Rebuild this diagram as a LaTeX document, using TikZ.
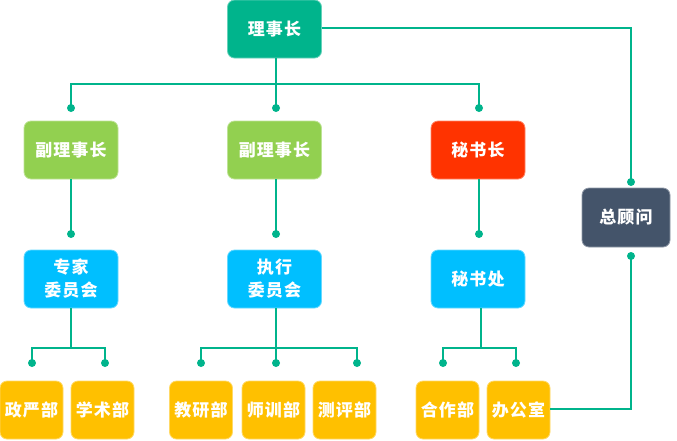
\documentclass[tikz,border=0pt]{standalone}
\usepackage{fontspec}
\newfontfamily\cjk{Noto Sans CJK SC}[LetterSpace=6]
\definecolor{teal}{HTML}{00B48C}
\definecolor{cgreen}{HTML}{92D050}
\definecolor{cred}{HTML}{FF3300}
\definecolor{cblue}{HTML}{00BFFF}
\definecolor{cyel}{HTML}{FFC000}
\definecolor{cnavy}{HTML}{44546A}
\tikzset{
  box/.style={rounded corners=7pt, text=white, font=\cjk\bfseries\fontsize{17}{23}\selectfont, align=center, inner sep=0pt, line width=0.8pt},
  big/.style={box, minimum width=94pt, minimum height=58pt},
  small/.style={box, minimum width=63pt, minimum height=58pt},
  conn/.style={draw=teal, line width=1.8pt},
  dot/.style={fill=teal, circle, inner sep=0pt, minimum size=8pt},
}
\begin{document}
\begin{tikzpicture}[x=1pt,y=-1pt]
\useasboundingbox (0,0) rectangle (677,440);
% nodes
\node[big, fill=teal, draw=teal!60!white] (top) at (274.5,29) {理事长};
\node[big, fill=cgreen, draw=cgreen!60!white] (v1) at (71,150) {副理事长};
\node[big, fill=cgreen, draw=cgreen!60!white] (v2) at (274.5,150) {副理事长};
\node[big, fill=cred, draw=cred!60!white] (sec) at (478,150) {秘书长};
\node[big, fill=cblue, draw=cblue!60!white] (zj) at (71,279) {专家\\委员会};
\node[big, fill=cblue, draw=cblue!60!white] (zx) at (274.5,279) {执行\\委员会};
\node[big, fill=cblue, draw=cblue!60!white] (msc) at (478,279) {秘书处};
\node[box, fill=cnavy, draw=cnavy!60!white, minimum width=88pt, minimum height=59pt] (gw) at (626,217.5) {总顾问};
\node[small, fill=cyel, draw=cyel!60!white] (zy) at (31.5,410) {政严部};
\node[small, fill=cyel, draw=cyel!60!white] (xs) at (102.5,410) {学术部};
\node[small, fill=cyel, draw=cyel!60!white] (jy) at (201,410) {教研部};
\node[small, fill=cyel, draw=cyel!60!white] (sx) at (273.5,410) {师训部};
\node[small, fill=cyel, draw=cyel!60!white] (cp) at (344.5,410) {测评部};
\node[small, fill=cyel, draw=cyel!60!white] (hz) at (447.5,410) {合作部};
\node[small, fill=cyel, draw=cyel!60!white] (bg) at (518.5,410) {办公室};
% dot positions
\coordinate (d1) at (71,108);
\coordinate (d2) at (276,108);
\coordinate (d3) at (479,108);
\coordinate (dg1) at (631,182);
\coordinate (dg2) at (631,256);
\coordinate (e1) at (71,234);
\coordinate (e2) at (276,234);
\coordinate (e3) at (479,234);
\coordinate (f1) at (32,363);
\coordinate (f2) at (105,363);
\coordinate (f3) at (201,363);
\coordinate (f4) at (276,363);
\coordinate (f5) at (357,363);
\coordinate (f6) at (443,363);
\coordinate (f7) at (516,363);
% connectors
\draw[conn] (top.south -| d2) -- (d2);
\draw[conn] (d1) |- (d3 |- 0,84) -- (d3);
\draw[conn] (top.east |- 0,28) -| (dg1);
\draw[conn] (v1.south) -- (e1);
\draw[conn] (v2.south -| e2) -- (e2);
\draw[conn] (sec.south -| e3) -- (e3);
\draw[conn] (zj.south) -- (71,348);
\draw[conn] (f1) |- (f2 |- 0,348) -- (f2);
\draw[conn] (zx.south -| f4) -- (f4);
\draw[conn] (f3) |- (f5 |- 0,348) -- (f5);
\draw[conn] (msc.south -| 481,0) -- (481,348);
\draw[conn] (f6) |- (f7 |- 0,348) -- (f7);
\draw[conn] (bg.east |- 0,409) -| (dg2);
\foreach \d in {d1,d2,d3,dg1,dg2,e1,e2,e3,f1,f2,f3,f4,f5,f6,f7}
  \node[dot] at (\d) {};
\end{tikzpicture}
\end{document}
